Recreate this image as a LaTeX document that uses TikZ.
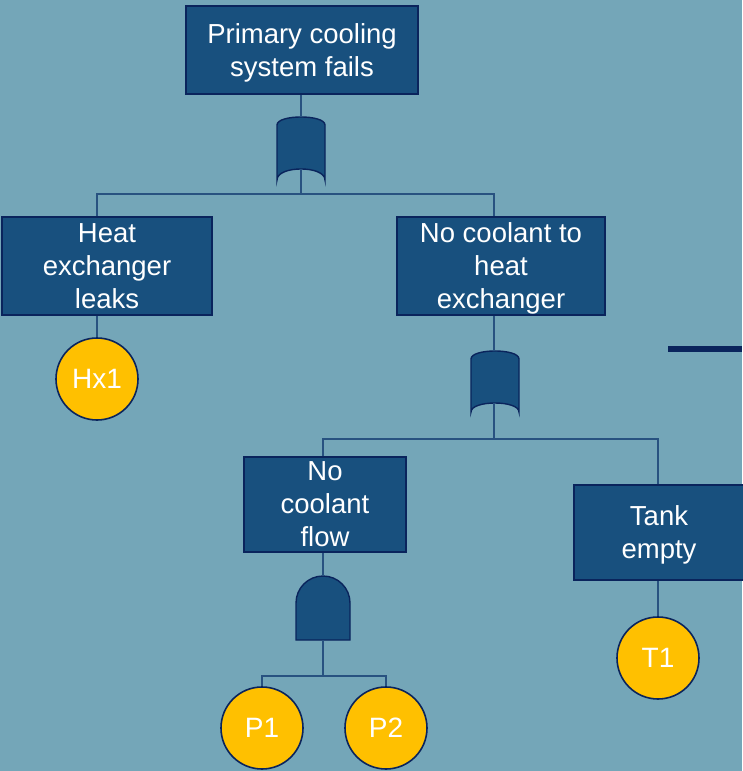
\documentclass[tikz,border=0pt]{standalone}
\usepackage{fontspec}
\setmainfont{Liberation Sans}
\definecolor{bgteal}{RGB}{116,166,184}
\definecolor{boxblue}{RGB}{24,80,126}
\definecolor{navy}{RGB}{10,36,92}
\definecolor{wire}{RGB}{40,82,128}
\definecolor{basic}{RGB}{255,192,0}
\begin{document}
\begin{tikzpicture}[x=1pt,y=-1pt,
  event/.style={draw=navy,line width=1.6pt,fill=boxblue,text=white,align=center,
    inner sep=0pt,text depth=0pt,font=\fontsize{27.5}{33}\selectfont},
  basicev/.style={circle,draw=navy,line width=1.6pt,fill=basic,text=white,
    minimum size=82pt,inner sep=0pt,font=\fontsize{28}{33}\selectfont},
  gate/.style={draw=navy,line width=1.4pt,fill=boxblue},
  conn/.style={draw=wire,line width=1.3pt}]
% canvas
\fill[bgteal] (0,0) rectangle (742,771);
\useasboundingbox (0,0) rectangle (742,771);

% events
\node[event,minimum width=232pt,minimum height=88pt] (top) at (302,50) {Primary cooling\\system fails};
\node[event,minimum width=210pt,minimum height=98pt] (heat) at (107,266) {Heat\\exchanger\\leaks};
\node[event,minimum width=208pt,minimum height=98pt] (nocool) at (501,266) {No coolant to\\heat\\exchanger};
\node[event,minimum width=162pt,minimum height=95pt] (noflow) at (325,504.5) {No\\coolant\\flow};
\node[event,minimum width=170pt,minimum height=95pt] (tank) at (659,532.5) {Tank\\empty};

% basic events
\node[basicev] (hx1) at (97,379) {Hx1};
\node[basicev] (t1) at (658,658) {T1};
\node[basicev] (p1) at (262,728) {P1};
\node[basicev] (p2) at (386,728) {P2};

% OR gate under the top event
\path[gate] (277,125) .. controls (277,114.3) and (325,114.3) .. (325,125)
  -- (325,180) .. controls (325,165.3) and (277,165.3) .. (277,180) -- cycle;
\coordinate (g1in) at (301,117);
\coordinate (g1out) at (301,169);
% OR gate under "No coolant to heat exchanger"
\path[gate] (471,359) .. controls (471,348.3) and (519,348.3) .. (519,359)
  -- (519,412) .. controls (519,400) and (471,400) .. (471,412) -- cycle;
\coordinate (g2in) at (494,351);
\coordinate (g2out) at (494,403);
% AND gate under "No coolant flow"
\path[gate] (296,640) -- (296,603) arc[start angle=180,end angle=360,radius=27] -- (350,640) -- cycle;
\coordinate (g3in) at (323,576);
\coordinate (g3out) at (323,640);

% junctions
\coordinate (j1) at (301,194);
\coordinate (j2) at (494,439);
\coordinate (j3) at (323,676);

% connectors
\draw[conn] (top.south -| g1in) -- (g1in);
\draw[conn] (g1out) -- (j1);
\draw[conn] (heat.north -| hx1) |- (j1) -| (nocool.north -| g2in);
\draw[conn] (hx1.north) -- (hx1.north |- heat.south);
\draw[conn] (nocool.south -| g2in) -- (g2in);
\draw[conn] (g2out) -- (j2);
\draw[conn] (noflow.north -| g3in) |- (j2) -| (tank.north -| t1);
\draw[conn] (t1.north) -- (t1.north |- tank.south);
\draw[conn] (noflow.south -| g3in) -- (g3in);
\draw[conn] (g3out) -- (j3);
\draw[conn] (p1.north) |- (j3) -| (p2.north);

% dark rule at the right edge
\coordinate (ruleA) at (668,349);
\coordinate (ruleB) at (742,349);
\draw[navy,line width=5.5pt] (ruleA) -- (ruleB);
\end{tikzpicture}
\end{document}
